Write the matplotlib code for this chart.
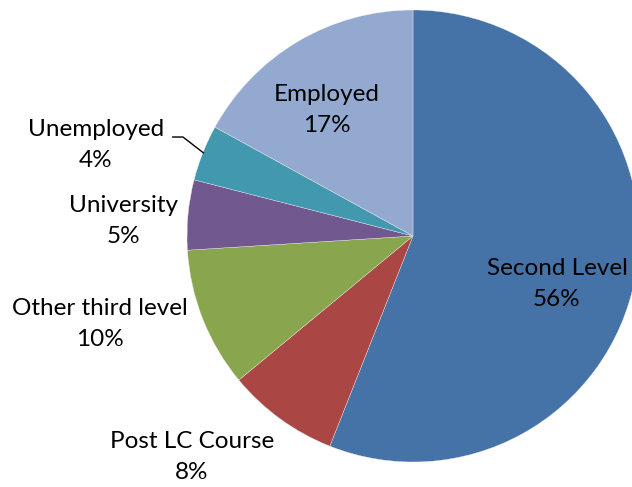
import matplotlib
matplotlib.use("Agg")
import matplotlib.pyplot as plt
import numpy as np

categories = ["Second Level", "Post LC Course", "Other third level", "University", "Unemployed", "Employed"]
values = [56, 8, 10, 5, 4, 17]
colors = ["#4572A7", "#AA4643", "#89A54E", "#71588F", "#4198AF", "#93A9CF"]

# label anchor positions (data units, pie radius = 1)
label_pos = [(0.637, -0.212), (-0.978, -0.978), (-1.385, -0.389),
             (-1.279, 0.066), (-1.403, 0.403), (-0.381, 0.558)]

plt.rcParams['font.family'] = ['Lato', 'DejaVu Sans']

W, H = 632, 487
fig = plt.figure(figsize=(W / 100, H / 100), dpi=100)
ax = fig.add_axes([0, 0, 1, 1])
cx, cy, r = 413, 236, 226

wedges, _ = ax.pie(values, colors=colors, startangle=90, counterclock=False,
                   radius=1, center=(0, 0), frame=True,
                   wedgeprops=dict(edgecolor='#f0f0f0', linewidth=0.25))
ax.set_xlim(-cx / r, (W - cx) / r)
ax.set_ylim(-(H - cy) / r, cy / r)
ax.set_aspect('equal')
ax.axis('off')

total = sum(values)
for name, v, (x, y) in zip(categories, values, label_pos):
    ax.text(x, y, f"{name}\n{round(100 * v / total)}%", ha='center', va='center',
            fontsize=17.5, color='black', linespacing=1.55)

# leader line for Unemployed
w = wedges[4]
mid = np.deg2rad((w.theta1 + w.theta2) / 2)
ex, ey = np.cos(mid) * 0.995, np.sin(mid) * 0.995
ax.plot([-1.066, -1.018, ex], [0.438, 0.438, ey], color='black', lw=1.0,
        solid_capstyle='butt')

fig.savefig("out.png", dpi=100)
